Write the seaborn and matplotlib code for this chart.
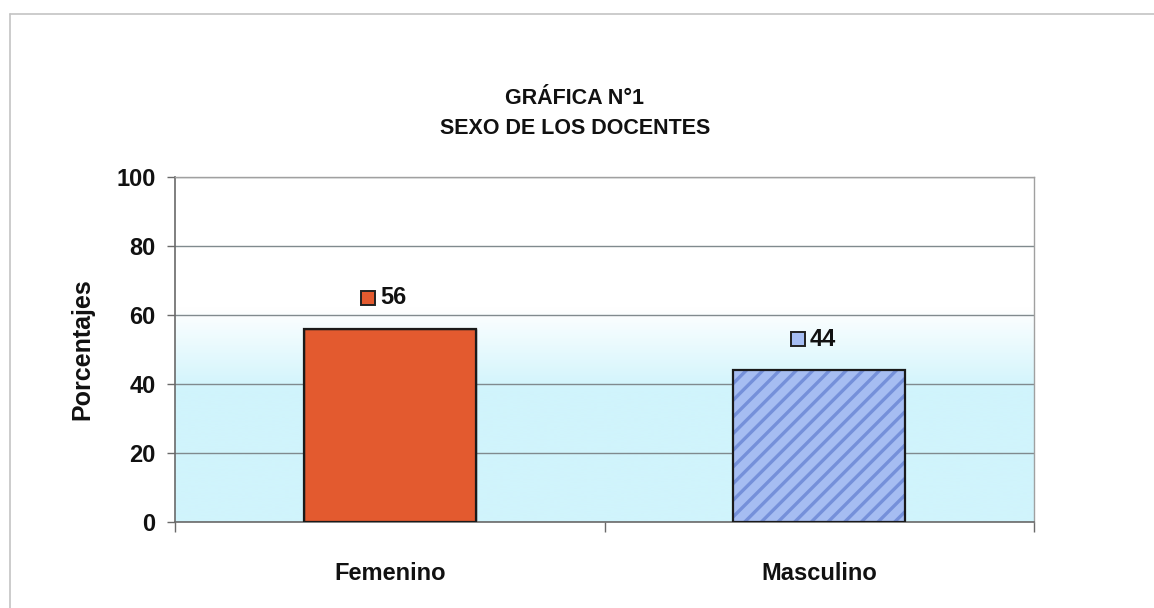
import numpy as np
import pandas as pd
import matplotlib
matplotlib.use("Agg")
import matplotlib.pyplot as plt
from matplotlib.patches import Rectangle
from matplotlib.lines import Line2D
from matplotlib.colors import LinearSegmentedColormap
import seaborn as sns

# ---- data ----
categories = ["Femenino", "Masculino"]
percentages = [56, 44]
yticks = [0, 20, 40, 60, 80, 100]
title_lines = ["GRÁFICA N°1", "SEXO DE LOS DOCENTES"]
ylabel = "Porcentajes"

bar_colors = ["#e35a2f", "#a6bdf2"]
hatch_color = "#7590da"

sns.set_theme(style="white")
plt.rcParams["font.family"] = ["Liberation Sans", "DejaVu Sans"]
plt.rcParams["text.color"] = "#111111"
plt.rcParams["axes.labelcolor"] = "#111111"
plt.rcParams["xtick.color"] = "#111111"
plt.rcParams["ytick.color"] = "#111111"
plt.rcParams["hatch.linewidth"] = 2.4

W, H = 1154, 608
fig = plt.figure(figsize=(W / 100, H / 100), dpi=100)
fig.patch.set_facecolor("white")
ax = fig.add_axes([175 / W, 1 - 522 / H, (1034 - 175) / W, (522 - 177) / H])

df = pd.DataFrame({"sexo": categories, "pct": percentages})
sns.barplot(data=df, x="sexo", y="pct", hue="sexo", palette=bar_colors,
            width=0.4, legend=False, ax=ax, zorder=2, saturation=1)

ax.set_xlim(-0.5, len(categories) - 0.5)
ax.set_ylim(0, 100)

# gradient background (white top -> light cyan bottom)
yy = np.linspace(100, 0, 400)
vals = np.clip((yy - 38) / (62 - 38), 0, 1)
grad = vals.reshape(-1, 1)
ax.imshow(grad, extent=[-0.5, len(categories) - 0.5, 0, 100], aspect="auto",
          cmap=LinearSegmentedColormap.from_list("bg2", ["#d0f4fc", "#ffffff"]),
          zorder=-1, interpolation="bilinear")

# bars styling
for i, patch in enumerate(ax.patches):
    if i == 1:
        patch.set_hatch("//")
        patch.set_edgecolor(hatch_color)
        patch.set_linewidth(0)
    else:
        patch.set_edgecolor("#222222")
    outline = Rectangle(patch.get_xy(), patch.get_width(), patch.get_height(),
                        fill=False, edgecolor="#1a1a1a", linewidth=1.6, zorder=3)
    ax.add_patch(outline)

# data labels with small square key
for i, v in enumerate(percentages):
    ax.plot(i - 0.05, v + 9, marker="s", markersize=10, color=bar_colors[i],
            markeredgecolor="#222222", markeredgewidth=1.4, zorder=4, clip_on=False)
    ax.text(i - 0.022, v + 9, str(v), ha="left", va="center", fontsize=17,
            fontweight="bold", color="#111111", zorder=4)

# grid and spines
ax.set_yticks(yticks)
ax.yaxis.grid(True, color="#808a8e", linewidth=1.0, zorder=0.5)
ax.xaxis.grid(False)
ax.set_axisbelow(True)
for s in ["left", "bottom"]:
    ax.spines[s].set_color("#6a6a6a")
    ax.spines[s].set_linewidth(1.2)
for s in ["right", "top"]:
    ax.spines[s].set_color("#a0a0a0")
    ax.spines[s].set_linewidth(1.0)

ax.tick_params(axis="y", direction="out", length=6, width=1, color="#6a6a6a",
               labelsize=17, pad=8, left=True)
for lab in ax.get_yticklabels():
    lab.set_fontweight("bold")

ax.set_xticks(range(len(categories)))
ax.set_xticklabels(categories, fontsize=17, fontweight="bold")
ax.tick_params(axis="x", which="major", length=0, pad=29)
ax.set_xticks(np.arange(-0.5, len(categories), 1.0), minor=True)
ax.tick_params(axis="x", which="minor", direction="out", length=7, width=1,
               color="#6a6a6a", bottom=True)

ax.set_xlabel("")
ax.set_ylabel(ylabel, fontsize=18, fontweight="bold", labelpad=16)

# titles
fig.text(0.498, 1 - 98 / H, title_lines[0], ha="center", va="center",
         fontsize=15.5, fontweight="bold")
fig.text(0.498, 1 - 128 / H, title_lines[1], ha="center", va="center",
         fontsize=15.5, fontweight="bold")

# chart frame (top and left edges visible)
fig.add_artist(Line2D([10 / W, 1.0], [1 - 14 / H, 1 - 14 / H], color="#c4c4c4",
                      linewidth=1.2, transform=fig.transFigure))
fig.add_artist(Line2D([10 / W, 10 / W], [0.0, 1 - 14 / H], color="#c4c4c4",
                      linewidth=1.2, transform=fig.transFigure))

fig.savefig("out.png", dpi=100, facecolor="white")
